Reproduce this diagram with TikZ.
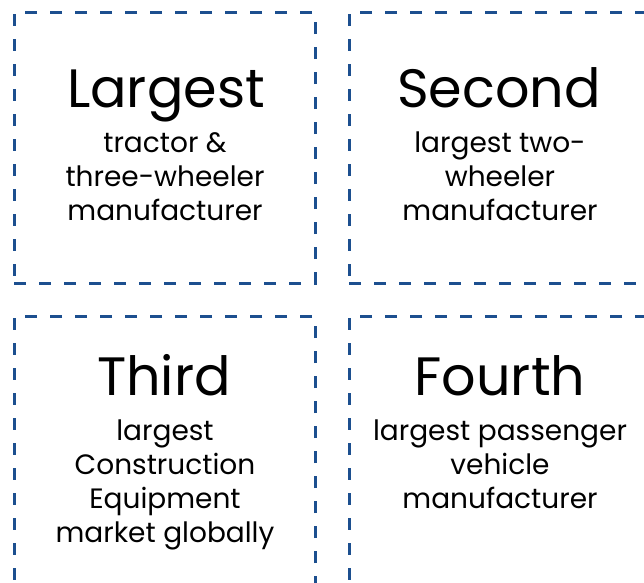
\documentclass[tikz,border=0pt]{standalone}
\usepackage{fontspec}
\setmainfont{Poppins}
\definecolor{BoxBlue}{RGB}{28,79,143}

\begin{document}
\begin{tikzpicture}[x=1pt, y=-1pt]
                \tikzset{BoxStyle/.style = {draw = BoxBlue, line width = 3pt,
                    dash pattern = on 12pt off 13pt, minimum width = 301pt,
                    minimum height = 271pt, inner sep = 0pt}}
                \tikzset{TitleStyle/.style = {anchor = base, inner sep = 0pt,
                    font = \fontsize{54}{60}\selectfont}}
                \tikzset{TextStyle/.style = {anchor = base, align = center, inner sep = 0pt,
                    font = \fontsize{28}{34}\selectfont}}
                \useasboundingbox (0,0) rectangle (644,582);
                \node[BoxStyle] (B1) at (164.5,147.5) {};
                \node[BoxStyle] (B2) at (499.5,147.5) {};
                \node[BoxStyle] (B3) at (164.5,451.5) {};
                \node[BoxStyle] (B4) at (499.5,451.5) {};
                \node[TitleStyle] (T1) at (166,107) {Largest};
                \node[TitleStyle] (T2) at (499,107) {Second};
                \node[TitleStyle] (T3) at (164,395) {Third};
                \node[TitleStyle] (T4) at (500,395) {Fourth};
                % base anchor sits on the last line
                \node[TextStyle] (L1) at (165,220) {tractor \&\\three-wheeler\\manufacturer};
                \node[TextStyle] (L2) at (500,220) {largest two-\\wheeler\\manufacturer};
                \node[TextStyle] (L3) at (165,542) {largest\\Construction\\Equipment\\market globally};
                \node[TextStyle] (L4) at (500,508) {largest passenger\\vehicle\\manufacturer};
\end{tikzpicture}
\end{document}
